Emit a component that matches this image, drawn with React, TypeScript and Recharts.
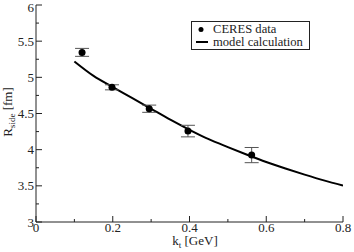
import * as React from "react";
import {
  ComposedChart,
  Line,
  Scatter,
  ErrorBar,
  XAxis,
  YAxis,
  Legend,
} from "recharts";

// CERES measurements
const ktData = [0.12, 0.198, 0.295, 0.396, 0.562];
const rsideData = [5.345, 4.862, 4.566, 4.257, 3.925];
const rsideErr = [0.055, 0.035, 0.05, 0.08, 0.105];

// model curve
const ktModel = [0.1, 0.15, 0.2, 0.25, 0.3, 0.35, 0.4, 0.45, 0.5, 0.55, 0.6, 0.65, 0.7, 0.75, 0.8];
const rsideModel = [5.22, 5.02, 4.865, 4.715, 4.565, 4.415, 4.275, 4.145, 4.035, 3.93, 3.83, 3.74, 3.655, 3.575, 3.505];

const xTicks = [0, 0.1, 0.2, 0.3, 0.4, 0.5, 0.6, 0.7, 0.8];
const yTicks = [3, 3.25, 3.5, 3.75, 4, 4.25, 4.5, 4.75, 5, 5.25, 5.5, 5.75, 6];

const FONT = "'Liberation Serif', 'DejaVu Serif', serif";
const AXIS = "#222";

const scatterData = ktData.map((x, i) => ({ x, y: rsideData[i], err: rsideErr[i] }));
const modelData = ktModel.map((x, i) => ({ x, y: rsideModel[i] }));

const isMajorX = (v: number) => Math.round(v * 10) % 2 === 0;
const isMajorY = (v: number) => Math.round(v * 4) % 2 === 0;

function BottomTick(props: any) {
  const { x, y, payload } = props;
  const major = isMajorX(payload.value);
  return (
    <g>
      <line x1={x} x2={x} y1={y} y2={y - (major ? 6 : 3)} stroke={AXIS} />
      {major && (
        <text x={x} y={y + 9.5} textAnchor="middle" fontFamily={FONT} fontSize={13} fill="#222">
          {String(payload.value)}
        </text>
      )}
    </g>
  );
}

function TopTick(props: any) {
  const { x, y, payload } = props;
  const major = isMajorX(payload.value);
  return <line x1={x} x2={x} y1={y} y2={y + (major ? 6 : 3)} stroke={AXIS} />;
}

function LeftTick(props: any) {
  const { x, y, payload } = props;
  const major = isMajorY(payload.value);
  // keep the top label inside the picture
  const ty = Math.max(y + 4.5, 11.8);
  return (
    <g>
      <line x1={x} x2={x + (major ? 6 : 3)} y1={y} y2={y} stroke={AXIS} />
      {major && (
        <text x={x - 2} y={ty} textAnchor="end" fontFamily={FONT} fontSize={13} fill="#222">
          {String(payload.value)}
        </text>
      )}
    </g>
  );
}

function RightTick(props: any) {
  const { x, y, payload } = props;
  const major = isMajorY(payload.value);
  return <line x1={x} x2={x - (major ? 6 : 3)} y1={y} y2={y} stroke={AXIS} />;
}

function XLabel() {
  return (
    <text x={195} y={245} textAnchor="middle" fontFamily={FONT} fontSize={13} fill="#222">
      k
      <tspan fontSize={9} dy={3}>t</tspan>
      <tspan dy={-3}> [GeV]</tspan>
    </text>
  );
}

function YLabel() {
  return (
    <text
      x={0}
      y={0}
      transform="translate(12,112) rotate(-90)"
      textAnchor="middle"
      fontFamily={FONT}
      fontSize={13}
      fill="#222"
    >
      R
      <tspan fontSize={9} dy={3}>side</tspan>
      <tspan dy={-3}> [fm]</tspan>
    </text>
  );
}

function LegendBox() {
  return (
    <div
      style={{
        width: 117,
        height: 27,
        border: "1px solid #222",
        background: "#fff",
        fontFamily: FONT,
        fontSize: 12.6,
        lineHeight: "13px",
        color: "#222",
        position: "relative",
      }}
    >
      <svg width={20} height={27} style={{ position: "absolute", left: 0, top: 0 }}>
        <circle cx={9} cy={7.5} r={2.5} fill="#000" />
        <line x1={4} x2={16} y1={20} y2={20} stroke="#000" strokeWidth={2} />
      </svg>
      <div style={{ position: "absolute", left: 21, top: 1, whiteSpace: "nowrap" }}>CERES data</div>
      <div style={{ position: "absolute", left: 21, top: 14, whiteSpace: "nowrap" }}>model calculation</div>
    </div>
  );
}

export default function App() {
  return (
    <div style={{ position: "absolute", left: 0, top: 0, background: "#fff" }}>
      <ComposedChart width={354} height={252} margin={{ top: 5, right: 11, left: 0, bottom: 0 }}>
        <XAxis
          xAxisId="b"
          type="number"
          dataKey="x"
          domain={[0, 0.8]}
          ticks={xTicks}
          interval={0}
          height={30}
          tickSize={0}
          tickMargin={0}
          tickLine={false}
          stroke={AXIS}
          tick={<BottomTick />}
          label={<XLabel />}
          allowDataOverflow
        />
        <XAxis
          xAxisId="t"
          orientation="top"
          type="number"
          dataKey="x"
          domain={[0, 0.8]}
          ticks={xTicks}
          interval={0}
          height={0}
          tickSize={0}
          tickMargin={0}
          tickLine={false}
          stroke={AXIS}
          tick={<TopTick />}
          allowDataOverflow
        />
        <YAxis
          yAxisId="l"
          type="number"
          domain={[3, 6]}
          ticks={yTicks}
          interval={0}
          width={36}
          tickSize={0}
          tickMargin={0}
          tickLine={false}
          stroke={AXIS}
          tick={<LeftTick />}
          label={<YLabel />}
          allowDataOverflow
        />
        <YAxis
          yAxisId="r"
          orientation="right"
          type="number"
          domain={[3, 6]}
          ticks={yTicks}
          interval={0}
          width={0}
          tickSize={0}
          tickMargin={0}
          tickLine={false}
          stroke={AXIS}
          tick={<RightTick />}
          allowDataOverflow
        />
        <Legend
          layout="vertical"
          align="center"
          verticalAlign="middle"
          wrapperStyle={{ left: 191, top: 21, width: "auto", height: "auto" }}
          content={() => <LegendBox />}
        />
        <Line
          xAxisId="b"
          yAxisId="l"
          data={modelData}
          dataKey="y"
          type="monotone"
          stroke="#000"
          strokeWidth={2}
          dot={false}
          activeDot={false}
          isAnimationActive={false}
        />
        <Scatter
          xAxisId="b"
          yAxisId="l"
          data={scatterData}
          dataKey="y"
          fill="#000"
          isAnimationActive={false}
          shape={(p: any) => <circle cx={p.cx} cy={p.cy} r={3.5} fill="#000" />}
        >
          <ErrorBar dataKey="err" direction="y" width={7} stroke="#555" strokeWidth={1} />
        </Scatter>
      </ComposedChart>
    </div>
  );
}
